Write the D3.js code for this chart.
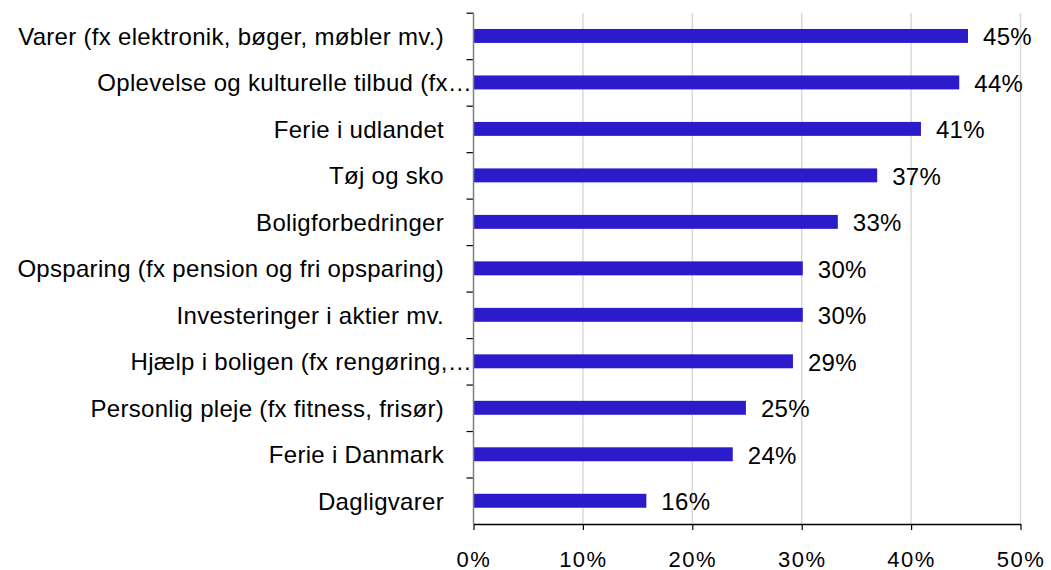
<!DOCTYPE html>
<html>
<head>
<meta charset="utf-8">
<script src="https://cdn.jsdelivr.net/npm/d3@7"></script>
<style>
  body { margin: 0; background: #fff; }
  text { font-family: "Liberation Sans", Arial, sans-serif; fill: #000; }
</style>
</head>
<body>
<script>
// categories, top to bottom
let categories = [
  "Varer (fx elektronik, bøger, møbler mv.)",
  "Oplevelse og kulturelle tilbud (fx…",
  "Ferie i udlandet",
  "Tøj og sko",
  "Boligforbedringer",
  "Opsparing (fx pension og fri opsparing)",
  "Investeringer i aktier mv.",
  "Hjælp i boligen (fx rengøring,…",
  "Personlig pleje (fx fitness, frisør)",
  "Ferie i Danmark",
  "Dagligvarer"
];
// shares
let values = [0.452, 0.444, 0.409, 0.369, 0.333, 0.301, 0.301, 0.292, 0.249, 0.237, 0.158];
let xTicks = [0, 0.1, 0.2, 0.3, 0.4, 0.5];

let width = 1051, height = 570;
// plot area edges
let plot = { left: 473.5, right: 1020.5, top: 12.7, bottom: 524 };

let svg = d3.select("body").append("svg")
    .attr("width", width)
    .attr("height", height);

let x = d3.scaleLinear().domain([0, 0.5]).range([plot.left, plot.right]);
let y = d3.scaleBand().domain(categories).range([plot.top, plot.bottom])
    .paddingInner(0.7).paddingOuter(0.35);
// band edges for the small y ticks
let yEdge = d3.scaleLinear().domain([0, categories.length]).range([plot.top, plot.bottom]);

// gridlines
svg.append("g")
    .selectAll("line")
    .data(xTicks.filter(d => d > 0))
    .enter().append("line")
    .attr("x1", d => x(d)).attr("x2", d => x(d))
    .attr("y1", plot.top).attr("y2", plot.bottom)
    .attr("stroke", "#d9d9d9")
    .attr("stroke-width", 1.5);

// bars
svg.append("g")
    .selectAll("rect")
    .data(categories)
    .enter().append("rect")
    .attr("x", x(0))
    .attr("y", d => y(d))
    .attr("width", (d, i) => x(values[i]) - x(0))
    .attr("height", y.bandwidth())
    .attr("fill", "#2c1bcb");

// value labels
svg.append("g")
    .selectAll("text")
    .data(categories)
    .enter().append("text")
    .attr("x", (d, i) => x(values[i]) + 15)
    .attr("y", d => y(d) + y.bandwidth() / 2 + 9.5)
    .style("font-size", "24px")
    .style("letter-spacing", "0.3px")
    .text((d, i) => Math.round(values[i] * 100) + "%");

// category labels
svg.append("g")
    .selectAll("text")
    .data(categories)
    .enter().append("text")
    .attr("x", d => d.endsWith("…") ? 472 : 444)
    .attr("y", d => y(d) + y.bandwidth() / 2 + 9)
    .attr("text-anchor", "end")
    .style("font-size", "24px")
    .style("letter-spacing", "0.3px")
    .text(d => d);

// y axis
let yAxis = svg.append("g")
    .attr("transform", "translate(" + plot.left + ",0)")
    .call(d3.axisLeft(yEdge).tickValues(d3.range(categories.length)).tickSize(7).tickSizeOuter(0).tickFormat(""));
yAxis.select(".domain").remove();
yAxis.selectAll(".tick line").attr("stroke", "#000").attr("stroke-width", 1.2);
svg.append("line")
    .attr("x1", plot.left).attr("x2", plot.left)
    .attr("y1", plot.top).attr("y2", plot.bottom)
    .attr("stroke", "#7f7f7f").attr("stroke-width", 1.5);

// x axis
let xAxis = svg.append("g")
    .attr("transform", "translate(0," + plot.bottom + ")")
    .call(d3.axisBottom(x).tickValues(xTicks).tickSize(6).tickSizeOuter(0).tickFormat(d3.format(".0%")));
xAxis.select(".domain").attr("stroke", "#000").attr("stroke-width", 1.3);
xAxis.selectAll(".tick line").attr("stroke", "#000").attr("stroke-width", 1.2);
xAxis.selectAll(".tick text")
    .attr("y", 0).attr("dy", 0)
    .attr("transform", "translate(0,42.5)")
    .style("font-size", "22px")
    .style("letter-spacing", "1.5px")
    .style("font-family", "'Liberation Sans', Arial, sans-serif");
</script>
</body>
</html>
